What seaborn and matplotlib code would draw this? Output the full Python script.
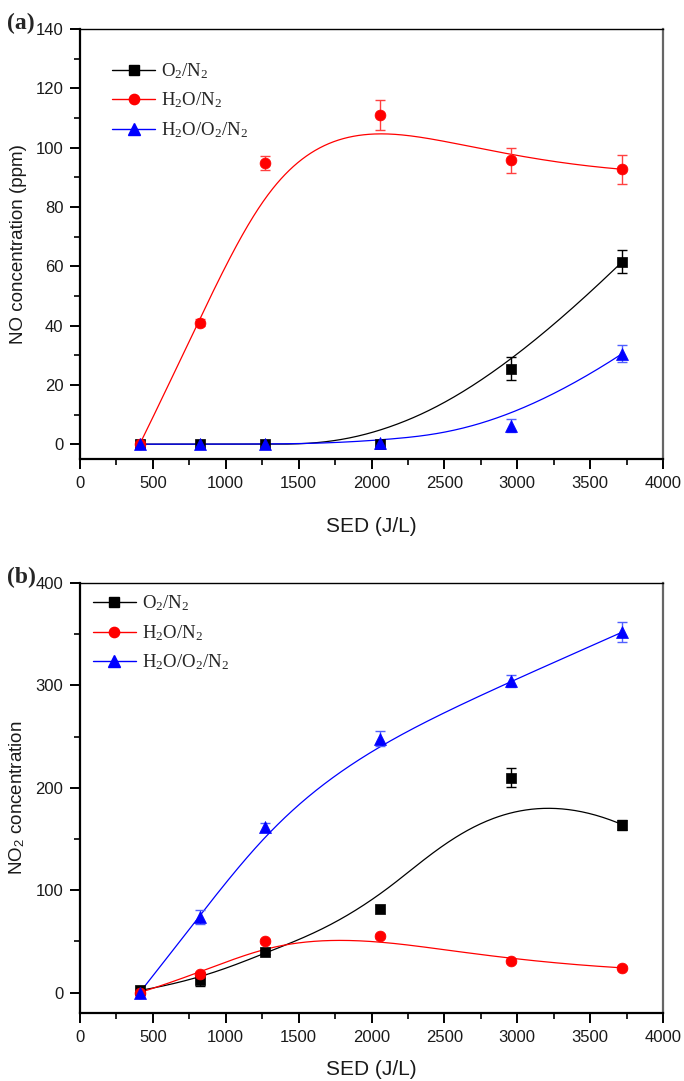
import numpy as np
import pandas as pd
import matplotlib
matplotlib.use("Agg")
import matplotlib.pyplot as plt
from matplotlib.lines import Line2D
from matplotlib.ticker import MultipleLocator
import seaborn as sns

# ---------------- data ----------------
sed = [410, 820, 1270, 2060, 2960, 3720]
series_names = ["O$_2$/N$_2$", "H$_2$O/N$_2$", "H$_2$O/O$_2$/N$_2$"]

# panel (a): NO concentration (ppm)
no_o2n2 = [0.0, 0.0, 0.0, 0.0, 25.4, 61.5]
no_o2n2_err = [0.0, 0.0, 0.0, 0.0, 3.9, 3.9]
no_h2on2 = [0.0, 41.0, 94.8, 111.0, 95.8, 92.7]
no_h2on2_err = [0.0, 1.2, 2.4, 5.2, 4.2, 4.8]
no_h2oo2n2 = [0.0, 0.0, 0.0, 0.5, 6.2, 30.5]
no_h2oo2n2_err = [0.0, 0.0, 0.0, 0.0, 2.2, 2.9]

# panel (b): NO2 concentration
no2_o2n2 = [2.0, 12.3, 39.4, 81.2, 210.0, 164.0]
no2_o2n2_err = [0.0, 6.3, 2.0, 0.0, 9.7, 4.9]
no2_h2on2 = [0.0, 18.3, 49.9, 54.8, 30.6, 24.1]
no2_h2on2_err = [0.0, 2.0, 2.0, 2.0, 1.5, 1.5]
no2_h2oo2n2 = [0.0, 74.0, 162.0, 248.0, 304.0, 352.0]
no2_h2oo2n2_err = [0.0, 6.8, 4.0, 7.0, 6.0, 10.0]

x_ticks = [0, 500, 1000, 1500, 2000, 2500, 3000, 3500, 4000]
colors = ["black", "#ff0000", "#0000ff"]
err_colors = ["black", "#ff4040", "#5060ff"]
markers = ["s", "o", "^"]
msizes = [7.2, 7.8, 8.6]


def bspline(xs, ys, n=400, k=3):
    """Clamped cubic B-spline using the data points as control points."""
    P = np.column_stack([xs, ys]).astype(float)
    m = len(P)
    knots = np.concatenate([np.zeros(k), np.linspace(0, 1, m - k + 1), np.ones(k)])
    t = np.linspace(0, 1, n)
    t[-1] = 1 - 1e-12
    N = np.zeros((n, len(knots) - 1))
    for i in range(len(knots) - 1):
        N[:, i] = (t >= knots[i]) & (t < knots[i + 1])
    for d in range(1, k + 1):
        Nn = np.zeros((n, len(knots) - 1 - d))
        for i in range(len(knots) - 1 - d):
            a = knots[i + d] - knots[i]
            b = knots[i + d + 1] - knots[i + 1]
            term = np.zeros(n)
            if a > 0:
                term += (t - knots[i]) / a * N[:, i]
            if b > 0:
                term += (knots[i + d + 1] - t) / b * N[:, i + 1]
            Nn[:, i] = term
        N = Nn
    C = N @ P
    return C[:, 0], C[:, 1]


sns.set_theme(style="ticks")
plt.rcParams["font.family"] = ["Liberation Sans", "DejaVu Sans"]
plt.rcParams["mathtext.fontset"] = "custom"
plt.rcParams["mathtext.rm"] = "Liberation Serif"
plt.rcParams["mathtext.sf"] = "Liberation Sans"
plt.rcParams["mathtext.it"] = "Liberation Serif:italic"

fig = plt.figure(figsize=(6.84, 10.81), dpi=100)
W, H = 684, 1081
ax_a = fig.add_axes([80 / W, 1 - 459 / H, 583 / W, 430 / H])
ax_b = fig.add_axes([80 / W, 1 - 1013 / H, 583 / W, 430 / H])

panels = [
    (ax_a, [no_o2n2, no_h2on2, no_h2oo2n2], [no_o2n2_err, no_h2on2_err, no_h2oo2n2_err],
     (-5, 140), 20, 10, "NO concentration (ppm)", "(a)", (0.055, 0.925), 19),
    (ax_b, [no2_o2n2, no2_h2on2, no2_h2oo2n2], [no2_o2n2_err, no2_h2on2_err, no2_h2oo2n2_err],
     (-20, 400), 100, 50, "NO$_\\mathsf{2}$ concentration", "(b)", (0.022, 0.975), 11),
]

for ax, ys, errs, ylim, major, minor, ylabel, tag, legpos, xlpad in panels:
    handles = []
    for j, (yv, ev) in enumerate(zip(ys, errs)):
        cx, cy = bspline(sed, yv)
        curve = pd.DataFrame({"x": cx, "y": cy})
        sns.lineplot(data=curve, x="x", y="y", ax=ax, color=colors[j], lw=0.9,
                     sort=False, estimator=None, zorder=2)
        ev_arr = np.array(ev)
        mask = ev_arr > 0
        ax.errorbar(np.array(sed)[mask], np.array(yv)[mask], yerr=ev_arr[mask], fmt="none",
                    ecolor=err_colors[j], elinewidth=1.0, capsize=3.8, capthick=1.0, zorder=3)
        pts = pd.DataFrame({"x": sed, "y": yv})
        sns.scatterplot(data=pts, x="x", y="y", ax=ax, marker=markers[j], color=colors[j],
                        s=msizes[j] ** 2, edgecolor=colors[j], linewidth=0.5, zorder=4)
        handles.append(Line2D([], [], color=colors[j], lw=1.0, marker=markers[j],
                              markersize=msizes[j] * 0.95, markerfacecolor=colors[j],
                              markeredgecolor=colors[j]))
    ax.set_xlim(0, 4000)
    ax.set_xticks(x_ticks)
    ax.xaxis.set_minor_locator(MultipleLocator(250))
    ax.yaxis.set_major_locator(MultipleLocator(major))
    ax.yaxis.set_minor_locator(MultipleLocator(minor))
    ax.set_ylim(*ylim)
    ax.tick_params(axis="both", which="major", direction="out", length=7, width=1.4,
                   labelsize=12, color="black", labelcolor="#1a1a1a", pad=5)
    ax.tick_params(axis="both", which="minor", direction="out", length=4, width=1.2,
                   color="black")
    ax.tick_params(top=False, right=False, which="both")
    for side in ["left", "bottom"]:
        ax.spines[side].set_linewidth(1.6)
        ax.spines[side].set_color("black")
    ax.spines["top"].set_linewidth(1.0)
    ax.spines["top"].set_color("black")
    ax.spines["right"].set_linewidth(1.6)
    ax.spines["right"].set_color("#666666")
    ax.set_xlabel("SED (J/L)", fontsize=15, color="#1a1a1a", labelpad=xlpad)
    ax.set_ylabel(ylabel, fontsize=13.5, color="#1a1a1a", labelpad=6)
    ax.text(-0.125, 1.0, tag, transform=ax.transAxes, fontsize=17, fontweight="bold",
            family="Liberation Serif", ha="left", va="baseline")
    ax.legend(handles, series_names, loc="upper left", bbox_to_anchor=legpos,
              frameon=False, borderpad=0, borderaxespad=0, handlelength=2.3,
              handletextpad=0.3, labelspacing=0.52,
              prop={"family": "Liberation Serif", "size": 13.5})

fig.savefig("out.png", dpi=100)
